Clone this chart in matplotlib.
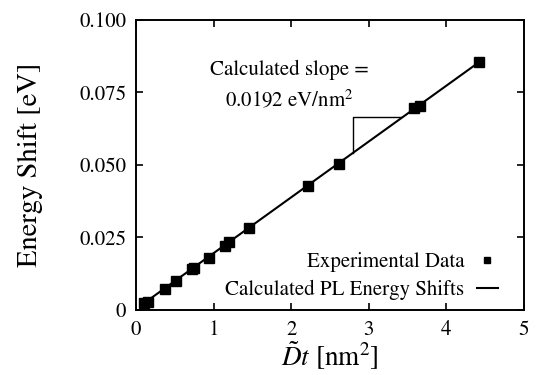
import matplotlib
matplotlib.use("Agg")
import matplotlib.pyplot as plt

plt.rcParams['font.family'] = ['STIXGeneral', 'DejaVu Serif']
plt.rcParams['mathtext.fontset'] = 'stix'

# measured PL shifts
exp_x = [0.10, 0.15, 0.37, 0.52, 0.72, 0.75, 0.94, 1.15, 1.20, 1.46,
         2.22, 2.61, 3.58, 3.66, 4.42]
exp_y = [0.0025, 0.0029, 0.0071, 0.0100, 0.0140, 0.0146, 0.0180, 0.0220,
         0.0233, 0.0281, 0.0427, 0.0503, 0.0694, 0.0702, 0.0853]

# calculated shifts (straight line)
calc_x = [0.07, 4.42]
calc_y = [0.0017, 0.0853]

# slope triangle corners
tri_x = [2.80, 2.80, 3.42]
tri_y = [0.0539, 0.0663, 0.0663]

xticks = [0, 1, 2, 3, 4, 5]
yticks = [0, 0.025, 0.050, 0.075, 0.100]
ytick_labels = ['0', '0.025', '0.050', '0.075', '0.100']

fig = plt.figure(figsize=(5.39, 3.75), dpi=100)
ax = fig.add_axes([0.2523, 0.1733, 0.7199, 0.7747])

ax.plot(exp_x, exp_y, 's', color='black', markersize=6.5,
        label='Experimental Data')
ax.plot(calc_x, calc_y, '-', color='black', linewidth=1.5,
        label='Calculated PL Energy Shifts')
ax.plot(tri_x, tri_y, '-', color='black', linewidth=1.0)

ax.text(1.97, 0.0826, 'Calculated slope =', ha='center', va='center',
        fontsize=15)
ax.text(1.97, 0.0723, r'0.0192 eV/nm$^2$', ha='center', va='center',
        fontsize=15)

ax.set_xlim(0, 5)
ax.set_ylim(0, 0.1)
ax.set_xticks(xticks)
ax.set_yticks(yticks)
ax.set_yticklabels(ytick_labels)
ax.tick_params(direction='in', top=True, right=True, length=5, width=1.2,
               labelsize=15, pad=7)
for s in ax.spines.values():
    s.set_linewidth(1.4)

ax.set_xlabel(r'$\tilde{D}t$ [nm$^2$]', fontsize=19.5, labelpad=0)
ax.set_ylabel('Energy Shift [eV]', fontsize=20.5, labelpad=26)

ax.legend(loc='lower right', bbox_to_anchor=(0.98, -0.03), frameon=False,
          markerfirst=False, fontsize=15, handlelength=1.0,
          handletextpad=0.6, labelspacing=0.35, markerscale=0.75)

fig.savefig('out.png', dpi=100)
